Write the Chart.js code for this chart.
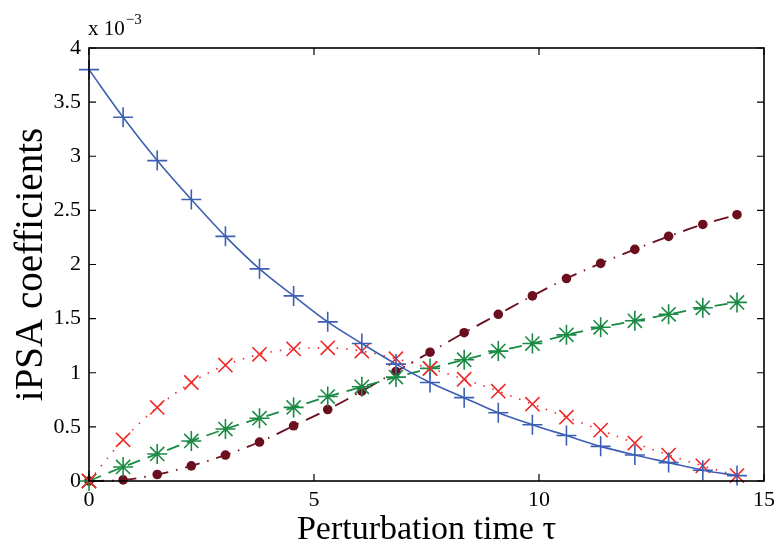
<!DOCTYPE html>
<html>
<head>
<meta charset="utf-8">
<script src="https://cdn.jsdelivr.net/npm/chart.js@4"></script>
<style>
  html, body { margin: 0; padding: 0; background: #fff; }
  #wrap { width: 781px; height: 550px; position: relative; }
</style>
</head>
<body>
<div id="wrap"><canvas id="c" width="781" height="550"></canvas></div>
<script>
// Perturbation time tau (marker positions)
const tau = [0, 0.758, 1.516, 2.274, 3.032, 3.789, 4.547, 5.305, 6.063, 6.821,
             7.579, 8.337, 9.095, 9.853, 10.61, 11.37, 12.13, 12.88, 13.64, 14.4];
// iPSA coefficients, in units of 1e-3
const seriesPlus  = [3.80, 3.36, 2.96, 2.60, 2.26, 1.96, 1.71, 1.47, 1.27, 1.08,
                     0.91, 0.77, 0.63, 0.52, 0.42, 0.32, 0.24, 0.17, 0.10, 0.05];
const seriesCross = [0.00, 0.38, 0.68, 0.91, 1.07, 1.17, 1.22, 1.23, 1.20, 1.13,
                     1.04, 0.94, 0.83, 0.71, 0.59, 0.47, 0.35, 0.24, 0.14, 0.05];
const seriesStar  = [0.00, 0.13, 0.25, 0.37, 0.48, 0.58, 0.68, 0.78, 0.87, 0.96,
                     1.04, 1.12, 1.20, 1.27, 1.35, 1.42, 1.48, 1.54, 1.60, 1.65];
const seriesDot   = [0.00, 0.01, 0.06, 0.14, 0.24, 0.36, 0.51, 0.66, 0.83, 1.01,
                     1.19, 1.37, 1.54, 1.71, 1.87, 2.01, 2.14, 2.26, 2.37, 2.46];
const xTicks = [0, 5, 10, 15];
const yTicks = [0, 0.5, 1, 1.5, 2, 2.5, 3, 3.5, 4];

const pts = arr => arr.map((v, i) => ({ x: tau[i], y: v }));
const FONT = "'Liberation Serif', 'DejaVu Serif', serif";

const boxPlugin = {
  id: 'box',
  afterDraw(chart) {
    const { ctx, chartArea: a, scales } = chart;
    ctx.save();
    ctx.strokeStyle = '#000';
    ctx.lineWidth = 1.6;
    ctx.strokeRect(a.left, a.top, a.right - a.left, a.bottom - a.top);
    ctx.lineWidth = 1.2;
    const L = 7;
    xTicks.forEach(v => {
      const px = scales.x.getPixelForValue(v);
      ctx.beginPath();
      ctx.moveTo(px, a.bottom); ctx.lineTo(px, a.bottom - L);
      ctx.moveTo(px, a.top); ctx.lineTo(px, a.top + L);
      ctx.stroke();
    });
    yTicks.forEach(v => {
      const py = scales.y.getPixelForValue(v);
      ctx.beginPath();
      ctx.moveTo(a.left, py); ctx.lineTo(a.left + L, py);
      ctx.moveTo(a.right, py); ctx.lineTo(a.right - L, py);
      ctx.stroke();
    });
    // exponent label
    ctx.fillStyle = '#000';
    ctx.textBaseline = 'alphabetic';
    ctx.textAlign = 'left';
    ctx.font = "21px " + FONT;
    ctx.fillText('x 10', a.left - 1, 35);
    const w = ctx.measureText('x 10').width;
    ctx.font = "15px " + FONT;
    ctx.fillText('\u22123', a.left - 1 + w + 1, 24);
    ctx.restore();
  }
};

new Chart(document.getElementById('c'), {
  type: 'line',
  data: {
    datasets: [
      { data: pts(seriesPlus), borderColor: '#3d5fb3', backgroundColor: '#3d5fb3',
        borderWidth: 1.6, pointStyle: 'cross', pointRadius: 10, pointBorderWidth: 1.6,
        cubicInterpolationMode: 'monotone', clip: false },
      { data: pts(seriesCross), borderColor: '#f0282a', backgroundColor: '#f0282a',
        borderWidth: 1.6, borderDash: [1.5, 8], pointStyle: 'crossRot', pointRadius: 10,
        pointBorderWidth: 1.6, cubicInterpolationMode: 'monotone', clip: false },
      { data: pts(seriesStar), borderColor: '#1a8a45', backgroundColor: '#1a8a45',
        borderWidth: 1.8, borderDash: [13, 8], pointStyle: 'star', pointRadius: 10,
        pointBorderWidth: 1.6, cubicInterpolationMode: 'monotone', clip: false },
      { data: pts(seriesDot), borderColor: '#6b0f1e', backgroundColor: '#6b0f1e',
        borderWidth: 1.8, borderDash: [15, 8, 1.5, 8], pointStyle: 'circle', pointRadius: 4.8,
        pointBorderWidth: 0, cubicInterpolationMode: 'monotone', clip: false }
    ]
  },
  options: {
    responsive: false,
    animation: false,
    devicePixelRatio: 1,
    layout: { padding: { top: 48, right: 13, left: 0, bottom: 0 } },
    plugins: { legend: { display: false }, tooltip: { enabled: false } },
    scales: {
      x: {
        type: 'linear', min: 0, max: 15,
        afterBuildTicks: s => { s.ticks = xTicks.map(v => ({ value: v })); },
        afterFit: s => { s.height = 69; },
        grid: { display: false, drawTicks: false },
        border: { display: false },
        ticks: { color: '#000', font: { family: FONT, size: 22 }, padding: 6,
                 maxRotation: 0, callback: v => String(v) },
        title: { display: true, text: 'Perturbation time \u03c4', color: '#000',
                 font: { family: FONT, size: 34 }, padding: { top: -4, bottom: 0 } }
      },
      y: {
        type: 'linear', min: 0, max: 4,
        afterBuildTicks: s => { s.ticks = yTicks.map(v => ({ value: v })); },
        afterFit: s => { s.width = 89; },
        grid: { display: false, drawTicks: false },
        border: { display: false },
        ticks: { color: '#000', font: { family: FONT, size: 22 }, padding: 8,
                 callback: v => String(v) },
        title: { display: true, text: 'iPSA coefficients', color: '#000',
                 font: { family: FONT, size: 39 }, padding: { top: 8, bottom: 0 } }
      }
    }
  },
  plugins: [boxPlugin]
});
</script>
</body>
</html>
